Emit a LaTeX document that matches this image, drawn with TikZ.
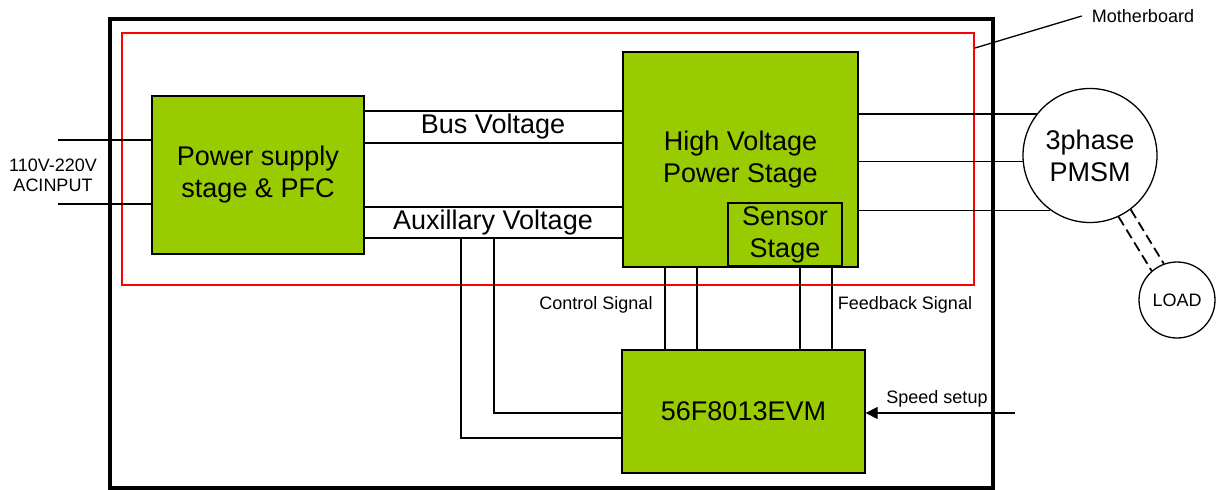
\documentclass[tikz,border=0pt]{standalone}
\usepackage{fontspec}
\setmainfont{Liberation Sans}
\usetikzlibrary{arrows.meta}
\definecolor{boxgreen}{RGB}{153,204,0}
\definecolor{boardred}{RGB}{255,0,0}
\begin{document}
\begin{tikzpicture}[x=1pt,y=-1pt,
  box/.style={draw=black,fill=boxgreen,line width=1.3pt,inner sep=0pt,align=center,font=\fontsize{27}{32}\selectfont},
  wire/.style={line width=1.3pt},
  small/.style={font=\fontsize{18}{21}\selectfont,inner sep=0pt,align=center},
  big/.style={font=\fontsize{27}{32}\selectfont,inner sep=0pt,align=center},
  motor/.style={draw=black,fill=white,circle,line width=1.3pt,inner sep=0pt,align=center}]
\useasboundingbox (0,0) rectangle (1216,490);

% frames
\node[draw=black,line width=4pt,minimum width=883pt,minimum height=469pt,inner sep=0pt] (outer) at (551.5,253.5) {};
\node[draw=boardred,line width=1.3pt,minimum width=852pt,minimum height=252pt,inner sep=0pt] (board) at (548,159) {};

% blocks
\node[box,minimum width=212pt,minimum height=158pt] (ps) at (258,175) {Power supply\\stage \& PFC};
\node[box,minimum width=235pt,minimum height=215pt] (hv) at (740.5,159.5) {High Voltage\\Power Stage};
\node[box,minimum width=114pt,minimum height=63pt] (sensor) at (785,234.5) {Sensor\\Stage};
\node[box,minimum width=243pt,minimum height=123pt] (evm) at (743.5,411.5) {56F8013EVM};
\node[motor,minimum size=134pt,font=\fontsize{27}{32}\selectfont] (pmsm) at (1090,155.5) {3phase\\PMSM};
\node[motor,minimum size=76pt,font=\fontsize{18}{21}\selectfont] (load) at (1177,300) {LOAD};

% labels
\node[small] (mb) at (1143,16) {Motherboard};
\node[small,font=\fontsize{18}{20}\selectfont] (ac) at (53,175) {110V-220V\\ACINPUT};
\node[big] (bus) at (493,127) {Bus Voltage};
\node[big] (aux) at (493,223) {Auxillary Voltage};
\node[small] (ctl) at (596,305) {Control Signal};
\node[small] (fb) at (905,305) {Feedback Signal};
\node[small] (spd) at (937,399) {Speed setup};

% helper coordinates
\coordinate (yb1) at (0,111);
\coordinate (yb2) at (0,143);
\coordinate (ya1) at (0,207);
\coordinate (ya2) at (0,238);
\coordinate (yac1) at (0,140);
\coordinate (yac2) at (0,204);
\coordinate (ys1) at (0,413);
\coordinate (ys2) at (0,438);
\coordinate (xc1) at (665,0);
\coordinate (xc2) at (697,0);
\coordinate (xf1) at (800,0);
\coordinate (xf2) at (832,0);
\coordinate (acA) at (58,140);
\coordinate (acB) at (58,204);
\coordinate (auxA) at (461,238);
\coordinate (auxB) at (494,238);
\coordinate (spdin) at (1015,413);
\coordinate (mbtip) at (975,48);

% AC input
\draw[wire] (acA) -- (ps.west |- yac1);
\draw[wire] (acB) -- (ps.west |- yac2);

% bus and auxiliary voltage
\draw[wire] (ps.east |- yb1) -- (hv.west |- yb1);
\draw[wire] (ps.east |- yb2) -- (hv.west |- yb2);
\draw[wire] (ps.east |- ya1) -- (hv.west |- ya1);
\draw[wire] (ps.east |- ya2) -- (hv.west |- ya2);
\draw[wire] (auxB) |- (evm.west |- ys1);
\draw[wire] (auxA) |- (evm.west |- ys2);

% control and feedback signals
\draw[wire] (hv.south -| xc1) -- (evm.north -| xc1);
\draw[wire] (hv.south -| xc2) -- (evm.north -| xc2);
\draw[wire] (hv.south -| xf1) -- (evm.north -| xf1);
\draw[wire] (hv.south -| xf2) -- (evm.north -| xf2);

% motor phases
\draw[wire] (hv.east |- pmsm.142.8) -- (pmsm.142.8);
\draw[wire] (hv.east |- pmsm.185.6) -- (pmsm.185.6);
\draw[wire] (hv.east |- pmsm.234.4) -- (pmsm.234.4);

% shaft to load
\draw[line width=1.8pt,dash pattern=on 10pt off 5pt] (pmsm.295) -- (load.131.7);
\draw[line width=1.8pt,dash pattern=on 10pt off 5pt] (pmsm.307) -- (load.110.5);

% speed setup
\draw[wire,-{Triangle[length=12pt,width=12pt]}] (spdin) -- (evm.east |- spdin);

% motherboard leader
\draw[wire] (mbtip) -- ([xshift=-10pt]mb.west);
\end{tikzpicture}
\end{document}
